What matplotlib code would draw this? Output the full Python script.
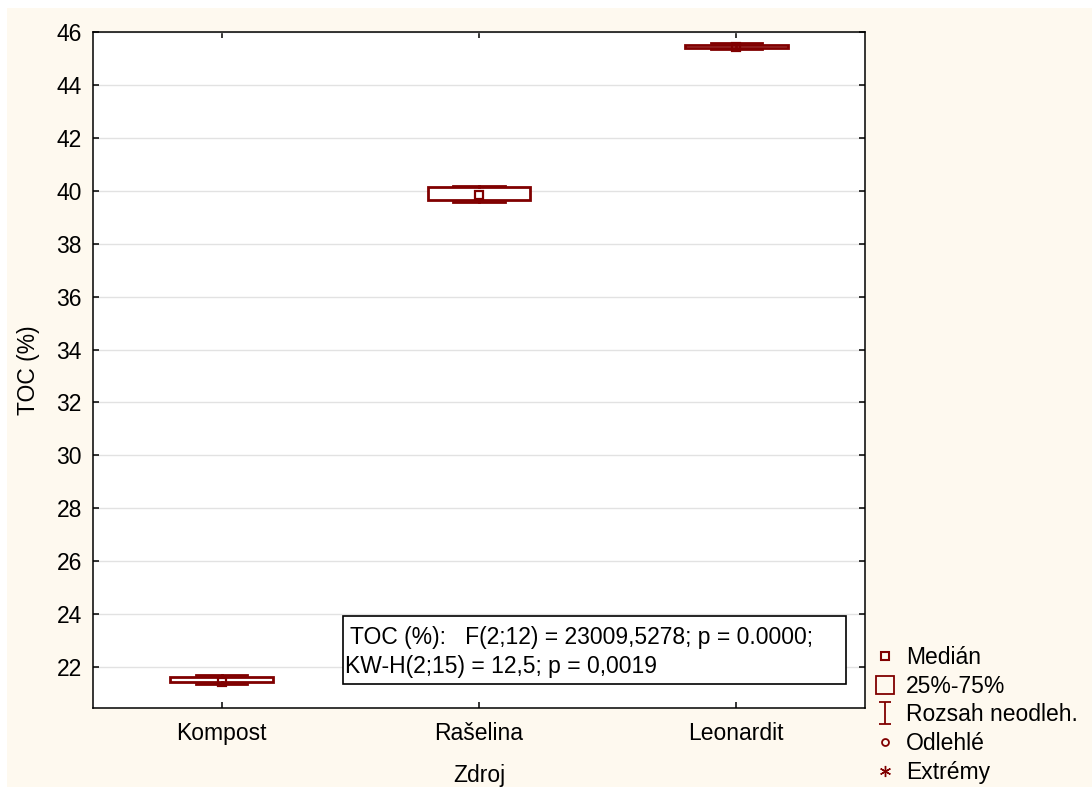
import matplotlib
matplotlib.use("Agg")
import matplotlib.pyplot as plt
from matplotlib.patches import Rectangle
from matplotlib.lines import Line2D
from matplotlib.path import Path

plt.rcParams['font.family'] = ['Liberation Sans', 'DejaVu Sans']

# Data (TOC %, per source)
groups = ['Kompost', 'Rašelina', 'Leonardit']
medians = [21.45, 39.85, 45.43]
q1 = [21.43, 39.64, 45.38]
q3 = [21.61, 40.14, 45.51]
mins = [21.36, 39.59, 45.36]
maxs = [21.68, 40.19, 45.58]
yticks = [22, 24, 26, 28, 30, 32, 34, 36, 38, 40, 42, 44, 46]

dark_red = '#800000'
cream = '#fef9ef'
fs = 16.5

fig = plt.figure(figsize=(10.92, 7.87), dpi=100, facecolor='white')
fig.patches.append(Rectangle((7 / 1092, 0), 1 - 7 / 1092, 1 - 8 / 787,
                             transform=fig.transFigure, facecolor=cream,
                             edgecolor='none', zorder=-1))

ax = fig.add_axes([0.0852, 0.1004, 0.7069, 0.8589])
ax.set_facecolor('white')

stats = []
for g, lo, a, m, b, hi in zip(groups, mins, q1, medians, q3, maxs):
    stats.append({'label': g, 'whislo': lo, 'q1': a, 'med': m,
                  'q3': b, 'whishi': hi, 'fliers': []})

pos = [1, 2, 3]
ax.bxp(stats, positions=pos, widths=0.4, capwidths=0.2, showfliers=False,
       patch_artist=True,
       boxprops=dict(facecolor='white', edgecolor=dark_red, linewidth=2.0),
       whiskerprops=dict(color=dark_red, linewidth=2.0),
       capprops=dict(color=dark_red, linewidth=2.0),
       medianprops=dict(linestyle='none'))
ax.plot(pos, medians, linestyle='none', marker='s', markersize=5.5,
        markerfacecolor='none', markeredgecolor=dark_red, markeredgewidth=1.6)

ax.set_xlim(0.5, 3.5)
ax.set_ylim(20.45, 46)
ax.set_yticks(yticks)
ax.set_xticks(pos)
ax.set_xticklabels(groups)
ax.yaxis.grid(True, color='#e2e2e2', linewidth=1)
ax.set_axisbelow(True)
ax.tick_params(direction='in', length=4.5, width=1.1, labelsize=fs,
               top=True, right=True)
ax.tick_params(axis='y', pad=8)
ax.tick_params(axis='x', pad=10)
for s in ax.spines.values():
    s.set_linewidth(1.1)

ax.set_ylabel('TOC (%)', fontsize=fs, labelpad=12)
ax.set_xlabel('Zdroj', fontsize=fs, labelpad=14)

# statistics box
ax.add_patch(Rectangle((0.3238, 0.0355), 0.6516, 0.1006, transform=ax.transAxes,
                       facecolor='white', edgecolor='black', linewidth=1.2,
                       zorder=5))
ax.text(0.3335, 0.105, 'TOC (%):   F(2;12) = 23009,5278; p = 0.0000;',
        transform=ax.transAxes, fontsize=fs, va='center', ha='left', zorder=6)
ax.text(0.3264, 0.0607, 'KW-H(2;15) = 12,5; p = 0,0019',
        transform=ax.transAxes, fontsize=fs, va='center', ha='left', zorder=6)

# legend
whisker_marker = Path([(-0.5, 1), (0.5, 1), (0, 1), (0, -1), (-0.5, -1), (0.5, -1)],
                      [Path.MOVETO, Path.LINETO, Path.MOVETO, Path.LINETO,
                       Path.MOVETO, Path.LINETO])
handles = [
    Line2D([], [], linestyle='none', marker='s', markersize=6,
           markerfacecolor='none', markeredgecolor=dark_red, markeredgewidth=1.5),
    Line2D([], [], linestyle='none', marker='s', markersize=13,
           markerfacecolor='none', markeredgecolor=dark_red, markeredgewidth=1.3),
    Line2D([], [], linestyle='none', marker=whisker_marker, markersize=16,
           markeredgecolor=dark_red, markeredgewidth=1.3),
    Line2D([], [], linestyle='none', marker='o', markersize=5,
           markerfacecolor='none', markeredgecolor=dark_red, markeredgewidth=1.3),
    Line2D([], [], linestyle='none', marker=(6, 2, 0), markersize=8,
           markeredgecolor=dark_red, markeredgewidth=1),
]
labels = ['Medián', '25%-75%', 'Rozsah neodleh.', 'Odlehlé', 'Extrémy']
fig.legend(handles, labels, loc='upper left',
           bbox_to_anchor=(874 / 1092, 1 - 646 / 787), frameon=False,
           fontsize=fs, handlelength=1.0, handletextpad=0.4,
           labelspacing=0.25, borderaxespad=0, borderpad=0)

fig.savefig('out.png', dpi=100, facecolor=fig.get_facecolor())
